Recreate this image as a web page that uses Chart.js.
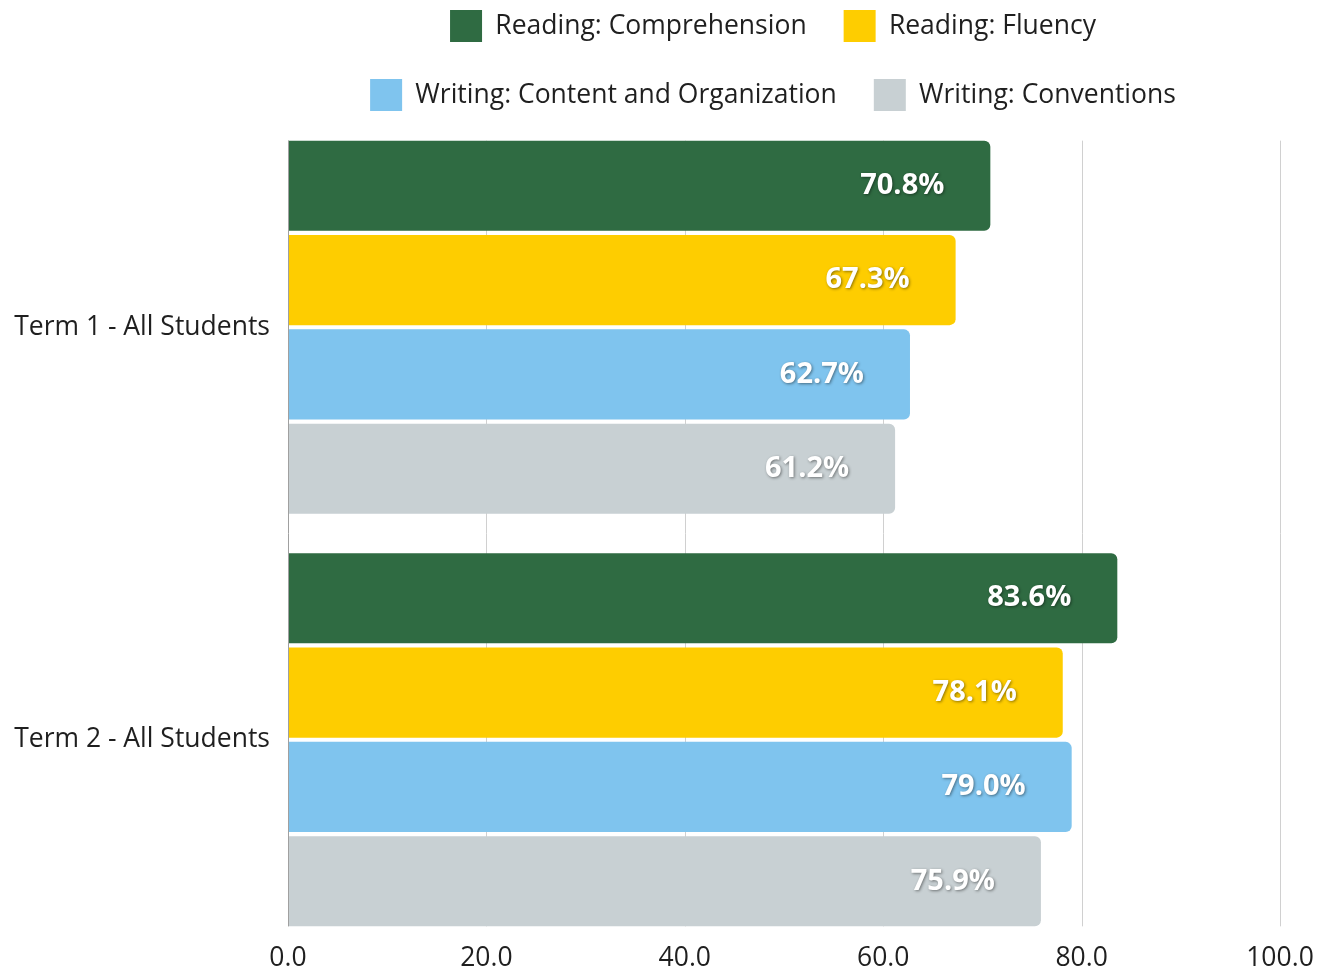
<!DOCTYPE html>
<html>
<head>
<meta charset="utf-8">
<script src="https://cdn.jsdelivr.net/npm/chart.js@4.4.0/dist/chart.umd.min.js"></script>
<style>
  html, body { margin: 0; padding: 0; background: #fff; }
  #wrap { width: 1326px; height: 972px; }
</style>
</head>
<body>
<div id="wrap"><canvas id="chart" width="1326" height="972"></canvas></div>
<script>
// chart data
const categories = ["Term 1 - All Students", "Term 2 - All Students"];
const seriesNames = ["Reading: Comprehension", "Reading: Fluency", "Writing: Content and Organization", "Writing: Conventions"];
const comprehension = [70.8, 83.6];
const fluency = [67.3, 78.1];
const contentOrg = [62.7, 79.0];
const conventions = [61.2, 75.9];
const xTicks = [0, 20, 40, 60, 80, 100];

const seriesColors = ["#2f6b42", "#fecd00", "#7fc4ee", "#c8d0d3"];
const FONT = "'Open Sans', 'Noto Sans', sans-serif";
const TEXT = "#1f1f1f";
const FONT_SIZE = 26.5;

// top of the first bar / bottom of the last bar
function barExtent(chart) {
  const first = chart.getDatasetMeta(0).data[0];
  const last = chart.getDatasetMeta(chart.data.datasets.length - 1).data[categories.length - 1];
  return [first.y - first.height / 2, last.y + last.height / 2];
}

// vertical grid lines, only as tall as the bars
const gridLines = {
  id: "gridLines",
  afterLayout(chart) {
    // nudge the legend a little left, like the original
    chart.legend.left -= 22;
  },
  beforeDatasetsDraw(chart) {
    const { ctx, scales: { x } } = chart;
    const [top, bottom] = barExtent(chart);
    ctx.save();
    ctx.lineWidth = 1;
    ctx.strokeStyle = "#d0d0d0";
    x.ticks.forEach(t => {
      if (t.value === 0) return;
      const px = Math.round(x.getPixelForValue(t.value)) + 0.5;
      ctx.beginPath();
      ctx.moveTo(px, top);
      ctx.lineTo(px, bottom);
      ctx.stroke();
    });
    ctx.restore();
  },
  afterDatasetsDraw(chart) {
    const { ctx, scales: { x } } = chart;
    const [top, bottom] = barExtent(chart);
    const px = Math.round(x.getPixelForValue(0)) + 0.5;
    ctx.save();
    ctx.strokeStyle = "#a0a0a0";
    ctx.lineWidth = 1;
    ctx.beginPath();
    ctx.moveTo(px, top);
    ctx.lineTo(px, bottom);
    ctx.stroke();
    ctx.restore();
  }
};

// white value labels inside bar ends
const valueLabels = {
  id: "valueLabels",
  afterDatasetsDraw(chart) {
    const { ctx } = chart;
    ctx.save();
    ctx.font = "bold 29px " + FONT;
    ctx.fillStyle = "#ffffff";
    ctx.textAlign = "right";
    ctx.textBaseline = "middle";
    ctx.shadowColor = "rgba(0,0,0,0.45)";
    ctx.shadowBlur = 3;
    ctx.shadowOffsetX = 1;
    ctx.shadowOffsetY = 1;
    chart.data.datasets.forEach((ds, i) => {
      chart.getDatasetMeta(i).data.forEach((bar, j) => {
        ctx.fillText(ds.data[j].toFixed(1) + "%", bar.x - 46, bar.y);
      });
    });
    ctx.restore();
  }
};

const seriesData = [comprehension, fluency, contentOrg, conventions];

new Chart(document.getElementById("chart"), {
  type: "bar",
  data: {
    labels: categories,
    datasets: seriesNames.map((name, i) => ({
      label: name,
      data: seriesData[i],
      backgroundColor: seriesColors[i],
      borderWidth: 0,
      borderRadius: 6,
      borderSkipped: "start",
      categoryPercentage: 0.915,
      barPercentage: 0.955
    }))
  },
  options: {
    indexAxis: "y",
    responsive: false,
    animation: false,
    layout: { padding: { top: -27, right: 46, bottom: 0, left: 0 } },
    plugins: {
      legend: {
        position: "top",
        fullSize: false,
        labels: {
          boxWidth: 32,
          boxHeight: 32,
          padding: 37,
          color: TEXT,
          font: { size: FONT_SIZE, family: FONT }
        }
      },
      tooltip: { enabled: false }
    },
    scales: {
      x: {
        min: xTicks[0],
        max: xTicks[xTicks.length - 1],
        ticks: {
          stepSize: xTicks[1] - xTicks[0],
          callback: v => v.toFixed(1),
          padding: -3,
          color: TEXT,
          font: { size: FONT_SIZE, family: FONT }
        },
        grid: { display: false, drawTicks: false },
        border: { display: false },
        afterFit(scale) { scale.height = 26; }
      },
      y: {
        ticks: {
          padding: 18,
          color: TEXT,
          font: { size: FONT_SIZE, family: FONT }
        },
        grid: { display: false, drawTicks: false },
        border: { display: false },
        afterFit(scale) {
          scale.width = 288;
          scale.paddingTop = 0;
          scale.paddingBottom = 0;
        }
      }
    }
  },
  plugins: [gridLines, valueLabels]
});
</script>
</body>
</html>
